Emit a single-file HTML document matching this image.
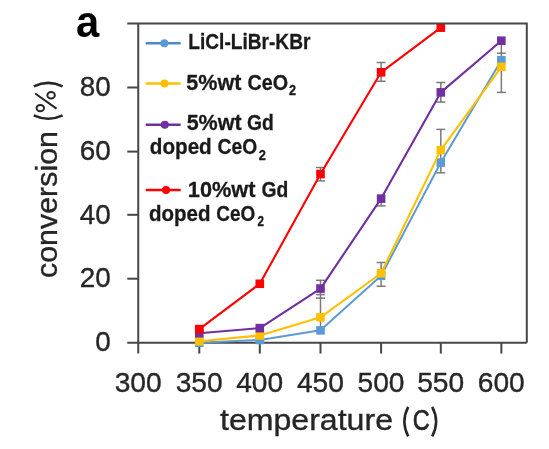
<!DOCTYPE html>
<html><head><meta charset="utf-8"><style>
html,body{margin:0;padding:0;background:#fff;width:549px;height:449px;overflow:hidden}
svg{display:block;filter:blur(0.4px)}
</style></head><body>
<svg width="549" height="449" viewBox="0 0 549 449">
<defs><clipPath id="pc"><rect x="0" y="23" width="549" height="426"/></clipPath></defs>
<g stroke="#474747" stroke-width="2" fill="none">
<path d="M127.3,342.75 H526.8 M138.25,23.45 V353.6"/>
<line x1="127.3" y1="278.70" x2="138.25" y2="278.70"/>
<line x1="127.3" y1="214.80" x2="138.25" y2="214.80"/>
<line x1="127.3" y1="151.60" x2="138.25" y2="151.60"/>
<line x1="127.3" y1="87.50" x2="138.25" y2="87.50"/>
<line x1="199.30" y1="342.75" x2="199.30" y2="353.6"/>
<line x1="259.80" y1="342.75" x2="259.80" y2="353.6"/>
<line x1="320.50" y1="342.75" x2="320.50" y2="353.6"/>
<line x1="381.10" y1="342.75" x2="381.10" y2="353.6"/>
<line x1="440.80" y1="342.75" x2="440.80" y2="353.6"/>
<line x1="501.35" y1="342.75" x2="501.35" y2="353.6"/>
</g>
<g stroke="#7a7a7a" stroke-width="1.5" fill="none">
<line x1="320.50" y1="280.3" x2="320.50" y2="330"/>
<line x1="316.00" y1="280.3" x2="325.00" y2="280.3"/>
<line x1="316.00" y1="294.6" x2="325.00" y2="294.6"/>
<line x1="316.00" y1="298.1" x2="325.00" y2="298.1"/>
<line x1="320.50" y1="167.5" x2="320.50" y2="180.9"/>
<line x1="316.00" y1="167.5" x2="325.00" y2="167.5"/>
<line x1="316.00" y1="180.9" x2="325.00" y2="180.9"/>
<line x1="381.10" y1="62.5" x2="381.10" y2="81.25"/>
<line x1="376.60" y1="62.5" x2="385.60" y2="62.5"/>
<line x1="376.60" y1="81.25" x2="385.60" y2="81.25"/>
<line x1="381.10" y1="196.0" x2="381.10" y2="205.9"/>
<line x1="376.60" y1="205.9" x2="385.60" y2="205.9"/>
<line x1="381.10" y1="262.5" x2="381.10" y2="286.2"/>
<line x1="376.60" y1="262.5" x2="385.60" y2="262.5"/>
<line x1="376.60" y1="286.2" x2="385.60" y2="286.2"/>
<line x1="440.80" y1="82.5" x2="440.80" y2="102.1"/>
<line x1="436.30" y1="82.5" x2="445.30" y2="82.5"/>
<line x1="436.30" y1="102.1" x2="445.30" y2="102.1"/>
<line x1="440.80" y1="129.4" x2="440.80" y2="172.8"/>
<line x1="436.30" y1="129.4" x2="445.30" y2="129.4"/>
<line x1="436.30" y1="172.8" x2="445.30" y2="172.8"/>
<line x1="501.35" y1="44" x2="501.35" y2="92.4"/>
<line x1="496.85" y1="53.2" x2="505.85" y2="53.2"/>
<line x1="496.85" y1="92.4" x2="505.85" y2="92.4"/>
</g>
<g clip-path="url(#pc)">
<polyline points="199.30,342.80 259.80,339.93 320.50,330.36 381.10,275.81 440.80,162.57 501.35,60.17" fill="none" stroke="#5B9BD5" stroke-width="2.0" stroke-linejoin="round"/>
<rect x="195.00" y="338.50" width="8.6" height="8.6" fill="#5B9BD5"/>
<rect x="255.50" y="335.63" width="8.6" height="8.6" fill="#5B9BD5"/>
<rect x="316.20" y="326.06" width="8.6" height="8.6" fill="#5B9BD5"/>
<rect x="376.80" y="271.51" width="8.6" height="8.6" fill="#5B9BD5"/>
<rect x="436.50" y="158.27" width="8.6" height="8.6" fill="#5B9BD5"/>
<rect x="497.05" y="55.87" width="8.6" height="8.6" fill="#5B9BD5"/>
<polyline points="199.30,341.20 259.80,335.46 320.50,317.28 381.10,273.26 440.80,150.12 501.35,66.87" fill="none" stroke="#FFC000" stroke-width="2.1" stroke-linejoin="round"/>
<rect x="195.00" y="336.90" width="8.6" height="8.6" fill="#FFC000"/>
<rect x="255.50" y="331.16" width="8.6" height="8.6" fill="#FFC000"/>
<rect x="316.20" y="312.98" width="8.6" height="8.6" fill="#FFC000"/>
<rect x="376.80" y="268.96" width="8.6" height="8.6" fill="#FFC000"/>
<rect x="436.50" y="145.82" width="8.6" height="8.6" fill="#FFC000"/>
<rect x="497.05" y="62.57" width="8.6" height="8.6" fill="#FFC000"/>
<polyline points="199.30,333.23 259.80,328.13 320.50,288.57 381.10,198.61 440.80,92.39 501.35,40.71" fill="none" stroke="#7030A0" stroke-width="2.1" stroke-linejoin="round"/>
<rect x="195.00" y="328.93" width="8.6" height="8.6" fill="#7030A0"/>
<rect x="255.50" y="323.83" width="8.6" height="8.6" fill="#7030A0"/>
<rect x="316.20" y="284.27" width="8.6" height="8.6" fill="#7030A0"/>
<rect x="376.80" y="194.31" width="8.6" height="8.6" fill="#7030A0"/>
<rect x="436.50" y="88.09" width="8.6" height="8.6" fill="#7030A0"/>
<rect x="497.05" y="36.41" width="8.6" height="8.6" fill="#7030A0"/>
<polyline points="199.30,329.08 259.80,283.79 320.50,174.05 381.10,72.29 440.80,27.63" fill="none" stroke="#FF0000" stroke-width="2.1" stroke-linejoin="round"/>
<rect x="195.00" y="324.78" width="8.6" height="8.6" fill="#FF0000"/>
<rect x="255.50" y="279.49" width="8.6" height="8.6" fill="#FF0000"/>
<rect x="316.20" y="169.75" width="8.6" height="8.6" fill="#FF0000"/>
<rect x="376.80" y="67.99" width="8.6" height="8.6" fill="#FF0000"/>
<rect x="436.50" y="23.33" width="8.6" height="8.6" fill="#FF0000"/>
</g>
<path d="M127.3,23.45 H526.8 V342.75" stroke="#474747" stroke-width="2" fill="none"/>
<g font-family="Liberation Sans, sans-serif" font-size="27" fill="#262626" stroke="#262626" stroke-width="0.35">
<text x="95.30" y="351.45" textLength="15.5" lengthAdjust="spacingAndGlyphs">0</text>
<text x="79.80" y="287.40" textLength="31" lengthAdjust="spacingAndGlyphs">20</text>
<text x="79.80" y="223.50" textLength="31" lengthAdjust="spacingAndGlyphs">40</text>
<text x="79.80" y="160.30" textLength="31" lengthAdjust="spacingAndGlyphs">60</text>
<text x="79.80" y="96.20" textLength="31" lengthAdjust="spacingAndGlyphs">80</text>
<text x="114.65" y="391.6" textLength="47" lengthAdjust="spacingAndGlyphs">300</text>
<text x="175.70" y="391.6" textLength="47" lengthAdjust="spacingAndGlyphs">350</text>
<text x="236.20" y="391.6" textLength="47" lengthAdjust="spacingAndGlyphs">400</text>
<text x="296.90" y="391.6" textLength="47" lengthAdjust="spacingAndGlyphs">450</text>
<text x="357.50" y="391.6" textLength="47" lengthAdjust="spacingAndGlyphs">500</text>
<text x="417.20" y="391.6" textLength="47" lengthAdjust="spacingAndGlyphs">550</text>
<text x="477.75" y="391.6" textLength="47" lengthAdjust="spacingAndGlyphs">600</text>
<text x="220" y="430.2" textLength="173" lengthAdjust="spacingAndGlyphs" font-size="29.5">temperature</text>
<text x="412.8" y="430.4" textLength="17" lengthAdjust="spacingAndGlyphs" font-size="30" stroke-width="0.7">C</text>
<g transform="translate(57.4,278) rotate(-90)">
<text x="0" y="0" textLength="147" lengthAdjust="spacingAndGlyphs" font-size="29.5">conversion</text>
</g>
</g>
<g fill="none" stroke="#262626" stroke-width="2.6">
<path d="M408.2,406.9 Q400.6,421.6 408.2,436.4"/>
<path d="M432.2,406.9 Q440.0,421.6 432.2,436.4"/>
<path d="M33.8,86.3 Q48.2,79.4 62.6,86.3"/>
<path d="M33.8,115.4 Q48.2,122.2 62.6,115.4"/>
<ellipse cx="51.1" cy="95.2" rx="3.7" ry="3.2" stroke-width="2"/>
<ellipse cx="40.3" cy="108.1" rx="3.7" ry="3.2" stroke-width="2"/>
<path d="M35.2,93.5 L56.5,108.6" stroke-width="2"/>
</g>
<text x="76" y="37" textLength="23.2" lengthAdjust="spacingAndGlyphs" font-family="Liberation Sans, sans-serif" font-weight="bold" font-size="44.5" fill="#000">a</text>
<g font-family="Liberation Sans, sans-serif" font-weight="bold" font-size="22" fill="#1a1a1a" stroke="#1a1a1a" stroke-width="0.3">
<line x1="145.7" y1="43.2" x2="180.7" y2="43.2" stroke="#4f88c6" stroke-width="2.5"/>
<circle cx="164.3" cy="43.2" r="4" fill="#5B9BD5" stroke="none"/>
<line x1="145.7" y1="83.4" x2="180.7" y2="83.4" stroke="#FFC000" stroke-width="2.5"/>
<circle cx="164.5" cy="83.4" r="4" fill="#FFC000" stroke="none"/>
<line x1="145.7" y1="124.8" x2="180.7" y2="124.8" stroke="#7030A0" stroke-width="2.5"/>
<circle cx="164.8" cy="124.8" r="4" fill="#7030A0" stroke="none"/>
<line x1="145.7" y1="190.1" x2="180.7" y2="190.1" stroke="#FF0000" stroke-width="2.5"/>
<circle cx="166" cy="190.1" r="4" fill="#FF0000" stroke="none"/>
<text x="188.32" y="49.3" textLength="122.07" lengthAdjust="spacingAndGlyphs">LiCl-LiBr-KBr</text>
<text x="186.34" y="90.0" textLength="55.02" lengthAdjust="spacingAndGlyphs">5%wt</text>
<text x="247.39" y="90.0" textLength="40.64" lengthAdjust="spacingAndGlyphs">CeO</text>
<text x="186.64" y="130.3" textLength="55.02" lengthAdjust="spacingAndGlyphs">5%wt</text>
<text x="247.11" y="130.3" textLength="26.76" lengthAdjust="spacingAndGlyphs">Gd</text>
<text x="149.75" y="154.2" textLength="62.01" lengthAdjust="spacingAndGlyphs">doped</text>
<text x="217.51" y="154.2" textLength="39.7" lengthAdjust="spacingAndGlyphs">CeO</text>
<text x="187.83" y="197.3" textLength="67.63" lengthAdjust="spacingAndGlyphs">10%wt</text>
<text x="261.61" y="197.3" textLength="26.76" lengthAdjust="spacingAndGlyphs">Gd</text>
<text x="149.06" y="221.3" textLength="61.49" lengthAdjust="spacingAndGlyphs">doped</text>
<text x="216.22" y="221.3" textLength="38.97" lengthAdjust="spacingAndGlyphs">CeO</text>
<text x="288.96" y="95.3" font-size="14" textLength="7.05" lengthAdjust="spacingAndGlyphs">2</text>
<text x="258.65" y="160.0" font-size="14" textLength="7.16" lengthAdjust="spacingAndGlyphs">2</text>
<text x="257.4" y="226.2" font-size="14" textLength="6.47" lengthAdjust="spacingAndGlyphs">2</text>
</g>
</svg>
</body></html>
